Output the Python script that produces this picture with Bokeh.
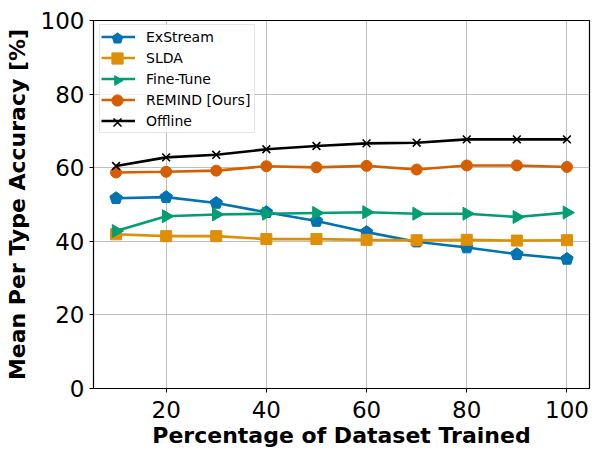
import numpy as np
from bokeh.plotting import figure
from bokeh.models import Legend, LegendItem, Range1d, FixedTicker
from bokeh.embed import file_html
from bokeh.resources import INLINE

pct = [10, 20, 30, 40, 50, 60, 70, 80, 90, 100]
exstream = [51.7, 52.0, 50.4, 47.9, 45.5, 42.5, 39.9, 38.3, 36.5, 35.2]
slda = [41.9, 41.4, 41.4, 40.6, 40.6, 40.4, 40.3, 40.4, 40.2, 40.3]
finetune = [42.8, 46.8, 47.3, 47.5, 47.7, 47.9, 47.5, 47.5, 46.6, 47.8]
remind = [58.7, 58.9, 59.2, 60.4, 60.1, 60.5, 59.5, 60.6, 60.6, 60.2]
offline = [60.45, 62.8, 63.5, 65.0, 65.9, 66.6, 66.8, 67.7, 67.7, 67.7]
names = ["ExStream", "SLDA", "Fine-Tune", "REMIND [Ours]", "Offline"]
colors = ["#0173B2", "#DE8F05", "#029E73", "#D55E00", "#000000"]
xticks = [20, 40, 60, 80, 100]
yticks = [0, 20, 40, 60, 80, 100]

FONT = "DejaVu Sans"

p = figure(width=592, height=450, output_backend="svg", toolbar_location=None,
           x_range=Range1d(5.5, 104.5), y_range=Range1d(0, 100),
           min_border_left=93, min_border_right=3, min_border_top=20, min_border_bottom=61)
p.outline_line_color = "black"
p.outline_line_width = 1.2
p.background_fill_color = "white"
p.border_fill_color = "white"

for ax in (p.xaxis[0], p.yaxis[0]):
    ax.major_label_text_font = FONT
    ax.major_label_text_font_size = "23px"
    ax.major_label_text_color = "black"
    ax.axis_label_text_font = FONT
    ax.axis_label_text_font_style = "bold"
    ax.axis_label_text_font_size = "22px"
    ax.axis_label_text_color = "black"
    ax.major_tick_in = 0
    ax.major_tick_out = 4
    ax.minor_tick_in = 0
    ax.minor_tick_out = 0
    ax.axis_line_color = None
    ax.major_tick_line_color = "black"

p.xaxis[0].major_label_standoff = 8
p.yaxis[0].major_label_standoff = 5
p.xaxis[0].ticker = FixedTicker(ticks=xticks)
p.yaxis[0].ticker = FixedTicker(ticks=yticks)
p.xaxis[0].axis_label = "Percentage of Dataset Trained"
p.yaxis[0].axis_label = "Mean Per Type Accuracy [%]"
p.xaxis[0].axis_label_standoff = 2
p.yaxis[0].axis_label_standoff = 8

p.grid.grid_line_color = "#b0b0b0"
p.grid.grid_line_width = 0.8

line_items = []
marker_rs = []
series = [exstream, slda, finetune, remind, offline]
for i, (name, ys, c) in enumerate(zip(names, series, colors)):
    ln = p.line(pct, ys, line_color=c, line_width=2.6)
    if i == 0:
        m = p.ngon(x=pct, y=ys, radius=6.5, n=5, radius_units="screen",
                   fill_color=c, line_color=c, angle=0)
    elif i == 1:
        m = p.scatter(pct, ys, marker="square", size=11, fill_color=c, line_color=c)
    elif i == 2:
        m = p.ngon(x=pct, y=ys, radius=7.5, n=3, radius_units="screen",
                   fill_color=c, line_color=c, angle=-np.pi / 2)
    elif i == 3:
        m = p.scatter(pct, ys, marker="circle", size=11, fill_color=c, line_color=c)
    else:
        m = p.scatter(pct, ys, marker="x", size=11, line_color=c, line_width=1.6)
    line_items.append(LegendItem(label=name, renderers=[ln]))
    marker_rs.append(m)

# main legend box: lines + labels
legend = Legend(items=line_items, location=(6, 255), padding=1, spacing=0,
                glyph_height=21, label_height=21, glyph_width=34, label_standoff=11,
                label_width=107,
                label_text_font=FONT, label_text_font_size="14px",
                label_text_color="black",
                border_line_color="#cccccc", border_line_width=1,
                background_fill_color="white", background_fill_alpha=0.8)
p.add_layout(legend, "center")

# full-size legend markers, one overlay per row
GH = 28
for k, m in enumerate(marker_rs):
    cy = 38.5 + 21 * k
    lg = Legend(items=[LegendItem(label=" ", renderers=[m])],
                location=(7, int(round(375 - cy))), padding=0, spacing=0,
                glyph_height=GH, label_height=GH, glyph_width=34, label_standoff=0,
                label_width=1, label_text_font_size="1px", label_text_alpha=0,
                border_line_color=None, background_fill_alpha=0)
    p.add_layout(lg, "center")

open("out.html", "w").write(file_html(p, INLINE))
